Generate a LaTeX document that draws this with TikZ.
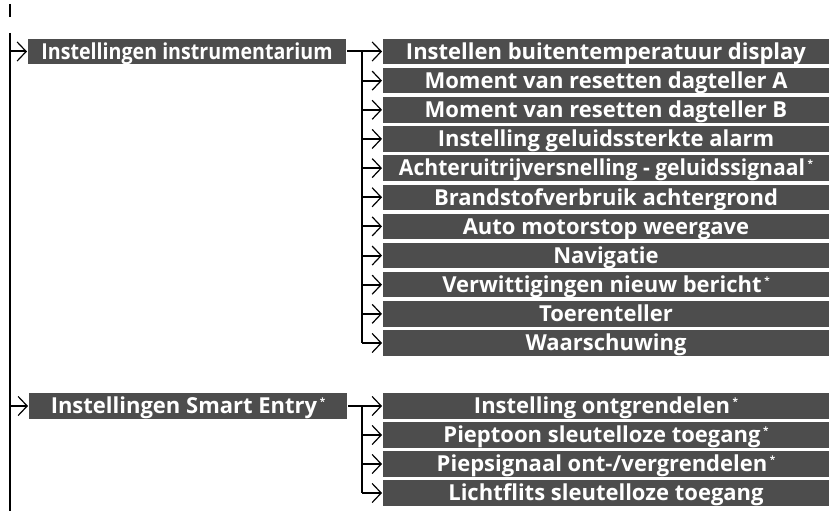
\documentclass[tikz,border=0pt]{standalone}
\usepackage{fontspec}
\setmainfont{Open Sans}
\usetikzlibrary{arrows.meta}
\definecolor{boxgray}{HTML}{4D4D4D}
\newcommand{\ster}{\hspace{2.5pt}\raisebox{8pt}{\fontsize{10}{10}\selectfont *}}
\tikzset{
  menubox/.style={fill=boxgray,text=white,inner sep=0pt,minimum height=25.5pt,
    font=\fontsize{22}{24}\selectfont\bfseries,text height=15.7pt,text depth=0pt},
  mainbox/.style={menubox,minimum width=318pt},
  subbox/.style={menubox,minimum width=446pt},
}
\begin{document}
\begin{tikzpicture}[x=1pt,y=-1pt,>={Straight Barb[length=9pt,width=19pt,line width=1.2pt]},line width=2pt]
    \useasboundingbox (0,0) rectangle (830,511);
    % trunk
    \draw[line width=1.7pt] (10,4) -- (10,17);
    \coordinate (ttop) at (10,33);
    \coordinate (tbot) at (10,511);
    \draw (ttop) -- (tbot);
    % first group
    \node[mainbox] (p1) at (187,51.5) {\scalebox{0.893}[1]{Instellingen instrumentarium}};
    \draw[->] (p1.west -| ttop) -- (p1.west);
    \coordinate (b1) at (362,51.5);
    \foreach \t [count=\i] in {Instellen buitentemperatuur display,
        Moment van resetten dagteller A,Moment van resetten dagteller B,
        Instelling geluidssterkte alarm,\scalebox{0.96}[1]{Achteruitrijversnelling - geluidssignaal}\ster,
        Brandstofverbruik achtergrond,Auto motorstop weergave,Navigatie,
        Verwittigingen nieuw bericht\ster,Toerenteller,Waarschuwing}
      \node[subbox] (c\i) at (606,{51.5+29.15*(\i-1)}) {\t};
    \draw (p1.east) -- (b1) -- (c11.west -| b1);
    \foreach \i in {1,...,11} \draw[->] (c\i.west -| b1) -- (c\i.west);
    % second group
    \node[mainbox] (p2) at (188,406) {Instellingen Smart Entry\ster};
    \draw[->] (p2.west -| ttop) -- (p2.west);
    \coordinate (b2) at (362,406);
    \foreach \t [count=\i] in {Instelling ontgrendelen\ster,
        Pieptoon sleutelloze toegang\ster,Piepsignaal ont-/vergrendelen\ster,
        Lichtflits sleutelloze toegang}
      \node[subbox] (d\i) at (606,{406+29*(\i-1)}) {\t};
    \draw (p2.east) -- (b2) -- (d4.west -| b2);
    \foreach \i in {1,...,4} \draw[->] (d\i.west -| b2) -- (d\i.west);
\end{tikzpicture}
\end{document}
